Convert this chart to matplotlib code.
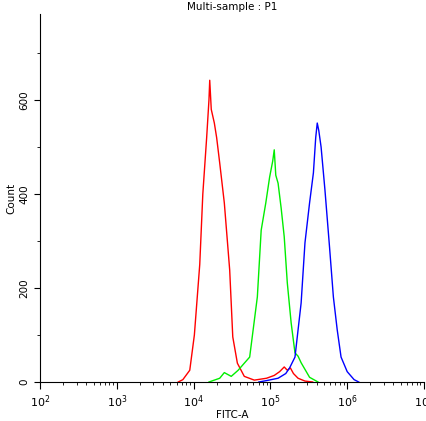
import matplotlib
matplotlib.use("Agg")
import matplotlib.pyplot as plt
from matplotlib.ticker import LogLocator, MultipleLocator

# log10(FITC-A) positions and event counts
red_log = [3.80, 3.86, 3.95, 4.01, 4.08, 4.12, 4.17, 4.20, 4.21, 4.23, 4.27, 4.30, 4.34, 4.40, 4.47, 4.51,
           4.57, 4.66, 4.79, 4.95, 5.05, 5.12, 5.18, 5.22, 5.26, 5.30, 5.36, 5.45, 5.55]
red_cnt = [0, 5, 25, 100, 250, 400, 520, 600, 642, 580, 551, 520, 466, 381, 238, 96,
           40, 12, 4, 8, 14, 22, 32, 25, 30, 18, 8, 2, 0]

green_log = [4.20, 4.34, 4.40, 4.49, 4.58, 4.66, 4.73, 4.78, 4.83, 4.88, 4.94, 4.99, 5.03, 5.05, 5.07, 5.10,
             5.14, 5.18, 5.22, 5.27, 5.32, 5.36, 5.40, 5.51, 5.62]
green_cnt = [0, 8, 20, 12, 25, 40, 53, 117, 181, 323, 381, 436, 470, 494, 440, 423,
             370, 309, 211, 126, 62, 55, 41, 10, 0]

blue_log = [4.85, 4.95, 5.10, 5.20, 5.25, 5.32, 5.40, 5.45, 5.51, 5.56, 5.59, 5.61, 5.63, 5.66, 5.71,
            5.77, 5.82, 5.87, 5.92, 6.00, 6.09, 6.15]
blue_cnt = [0, 3, 8, 18, 30, 53, 168, 296, 381, 445, 520, 551, 535, 500, 409,
            287, 181, 111, 53, 22, 5, 0]

fig = plt.figure(figsize=(4.27, 4.21), dpi=100)
ax = fig.add_axes([40 / 427, 39 / 421, 384 / 427, 368 / 421])

for lg, cnt, col in [(red_log, red_cnt, "red"), (green_log, green_cnt, "#00ee00"), (blue_log, blue_cnt, "blue")]:
    ax.plot([10 ** v for v in lg], cnt, color=col, lw=1)

ax.set_xscale("log")
ax.set_xlim(1e2, 1e7)
ax.set_ylim(0, 783)
ax.xaxis.set_major_locator(LogLocator(base=10, numticks=10))
ax.xaxis.set_minor_locator(LogLocator(base=10, subs=range(2, 10), numticks=50))
ax.yaxis.set_major_locator(MultipleLocator(200))
ax.yaxis.set_minor_locator(MultipleLocator(100))
ax.tick_params(axis="y", labelrotation=90, labelsize=7.5, length=4)
ax.tick_params(axis="x", labelsize=8, length=5)
ax.tick_params(which="minor", length=2.5)
for lab in ax.get_yticklabels():
    lab.set_va("center")
ax.spines["top"].set_visible(False)
ax.spines["right"].set_visible(False)
ax.set_xlabel("FITC-A", fontsize=7.5, labelpad=0)
ax.set_ylabel("Count", fontsize=7.5, labelpad=2)
ax.set_title("Multi-sample : P1", fontsize=7.5, pad=3)

fig.savefig("out.png", dpi=100)
